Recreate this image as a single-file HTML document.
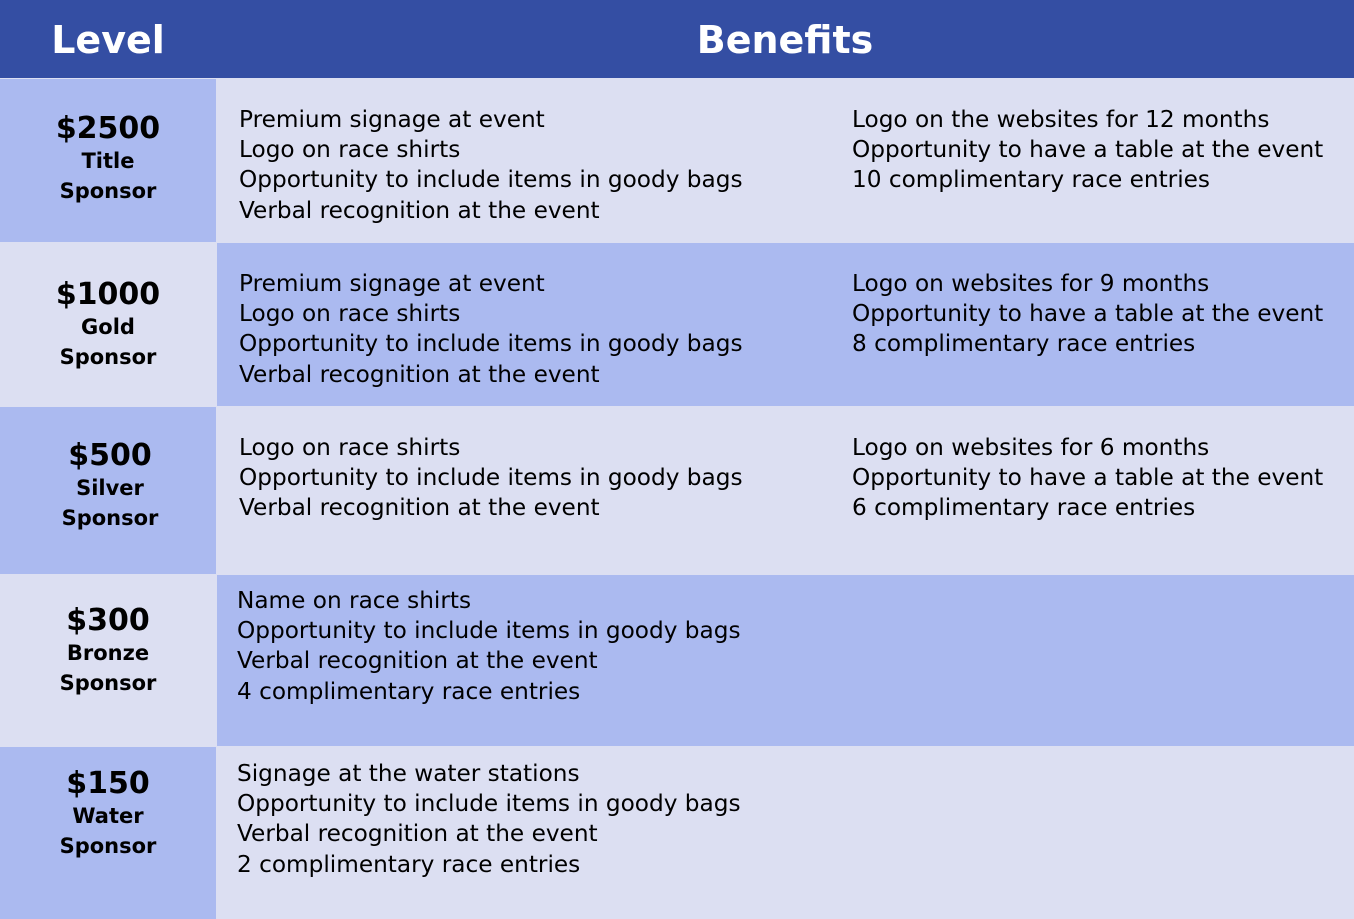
<!DOCTYPE html>
<html><head><style>
body{margin:0;width:1354px;height:919px;position:relative;overflow:hidden;font-family:"DejaVu Sans","Liberation Sans",sans-serif;background:#dcdff2}
div{position:absolute;box-sizing:border-box}
.h{background:#344ea3;top:0;height:78px;color:#fff;font-weight:bold;font-size:38px;text-align:center;line-height:80px}
.m{background:#abbaf0}.l{background:#dcdff2}
.lv{text-align:center;font-weight:bold;color:#000;width:216px;left:0}
.lv b{display:block;font-size:30px;line-height:34px}
.lv span{display:block;font-size:21px;line-height:30px}
.t{font-size:23.2px;line-height:30.2px;color:#000;white-space:nowrap}
</style></head><body>
<div class="h" style="left:0;width:216px">Level</div>
<div class="h" style="left:216px;width:1138px">Benefits</div>

<div class="m" style="left:0;top:79px;width:216px;height:163px"></div>
<div class="l" style="left:217px;top:79px;width:1137px;height:163px"></div>
<div class="l" style="left:0;top:243px;width:216px;height:163px"></div>
<div class="m" style="left:217px;top:243px;width:1137px;height:163px"></div>
<div class="m" style="left:0;top:407px;width:216px;height:167px"></div>
<div class="l" style="left:217px;top:407px;width:1137px;height:167px"></div>
<div class="l" style="left:0;top:575px;width:216px;height:171px"></div>
<div class="m" style="left:217px;top:575px;width:1137px;height:171px"></div>
<div class="m" style="left:0;top:747px;width:216px;height:172px"></div>
<div class="l" style="left:217px;top:747px;width:1137px;height:172px"></div>

<div class="lv" style="top:112px"><b>$2500</b><span>Title</span><span>Sponsor</span></div>
<div class="lv" style="top:278px"><b>$1000</b><span>Gold</span><span>Sponsor</span></div>
<div class="lv" style="top:439px;left:2px"><b>$500</b><span>Silver</span><span>Sponsor</span></div>
<div class="lv" style="top:604px"><b>$300</b><span>Bronze</span><span>Sponsor</span></div>
<div class="lv" style="top:767px"><b>$150</b><span>Water</span><span>Sponsor</span></div>

<div class="t" style="left:239px;top:105px">Premium signage at event<br>Logo on race shirts<br>Opportunity to include items in goody bags<br>Verbal recognition at the event</div>
<div class="t" style="left:852px;top:105px">Logo on the websites for 12 months<br>Opportunity to have a table at the event<br>10 complimentary race entries</div>
<div class="t" style="left:239px;top:269px">Premium signage at event<br>Logo on race shirts<br>Opportunity to include items in goody bags<br>Verbal recognition at the event</div>
<div class="t" style="left:852px;top:269px">Logo on websites for 9 months<br>Opportunity to have a table at the event<br>8 complimentary race entries</div>
<div class="t" style="left:239px;top:433px">Logo on race shirts<br>Opportunity to include items in goody bags<br>Verbal recognition at the event</div>
<div class="t" style="left:852px;top:433px">Logo on websites for 6 months<br>Opportunity to have a table at the event<br>6 complimentary race entries</div>
<div class="t" style="left:237px;top:586px">Name on race shirts<br>Opportunity to include items in goody bags<br>Verbal recognition at the event<br>4 complimentary race entries</div>
<div class="t" style="left:237px;top:759px">Signage at the water stations<br>Opportunity to include items in goody bags<br>Verbal recognition at the event<br>2 complimentary race entries</div>
</body></html>
